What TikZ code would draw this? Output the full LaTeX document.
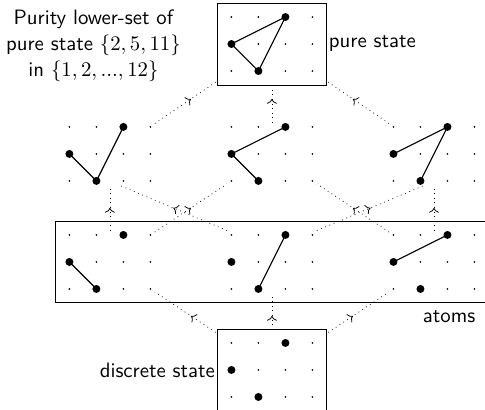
\documentclass[tikz,border=0pt]{standalone}
\usepackage{amsmath,amssymb}
\usetikzlibrary{arrows.meta,calc,fit,decorations.markings}
\tikzset{every node/.style={font=\fontsize{10.95}{13.6}\selectfont\sffamily},grp/.style={minimum width=1.65cm,minimum height=1.15cm,inner sep=0pt},
frame/.style={draw,inner sep=.175cm},bond/.style={line width=.6pt},
order/.style={dotted,postaction={decorate},decoration={markings,mark=at position .5 with {\arrow{To}}}}}
% 4x3 grid of points 1..12 (row by row from below), big points 2,5,11
\newcommand{\stategrid}[1]{%
\foreach \n in {1,...,12}{\pgfmathtruncatemacro{\gc}{mod(\n-1,4)}\pgfmathtruncatemacro{\gr}{(\n-1)/4}%
\coordinate (#1-\n) at ($(#1)+(\gc-1.5,\gr-1)$);\fill (#1-\n) circle(.5pt);}%
\foreach \n in {2,5,11}{\fill (#1-\n) circle(2.1pt);}}

\begin{document}
\begin{tikzpicture}[x=.5cm,y=.5cm]
\useasboundingbox (-10.07,-1.48) rectangle (7.89,13.7);
% states of the lower-set
\node[grp] (pure) at (0,12.07){};
\node[grp] (l2a) at (-6,8){};\node[grp] (l2b) at (0,8){};\node[grp] (l2c) at (6,8){};
\node[grp] (atoma) at (-6,4){};\node[grp] (atomb) at (0,4){};\node[grp] (atomc) at (6,4){};
\node[grp] (disc) at (0,0){};
% order
\draw[order] (disc)--(atoma);\draw[order] (disc)--(atomb);\draw[order] (disc)--(atomc);
\draw[order] (atoma)--(l2a);\draw[order] (atoma)--(l2b);\draw[order] (atomb.north west)--([xshift=.18cm]l2a.south);
\draw[order] (atomb.north east)--([xshift=-.18cm]l2c.south);\draw[order] (atomc)--(l2b);\draw[order] (atomc)--(l2c);
\draw[order] (l2a)--(pure);\draw[order] (l2b)--(pure);\draw[order] (l2c)--(pure);
% frames
\node[frame,fill=white,fit=(pure),label={[inner sep=1pt]right:pure state}] (purebox){};
\node[frame,fit=(atoma)(atomc)] (atomsbox){};
\node[frame,fill=white,fit=(disc),label={[inner sep=1pt]left:discrete state}] (discbox){};
% points and edges
\foreach \g in {pure,l2a,l2b,l2c,atoma,atomb,atomc,disc} \stategrid{\g};
\foreach \g/\a/\b in {pure/5/11,pure/11/2,pure/2/5,l2a/5/2,l2a/2/11,l2b/5/11,l2b/5/2,l2c/5/11,l2c/11/2,atoma/5/2,atomb/2/11,atomc/5/11}
  \draw[bond] (\g-\a)--(\g-\b);
\node[align=center] (title) at (-6.61,12){Purity lower-set of\\pure state $\{2,5,11\}$\\in $\{1,2,...,12\}$};
\node (atomslbl) at (6.56,1.97){atoms};
\end{tikzpicture}
\end{document}
